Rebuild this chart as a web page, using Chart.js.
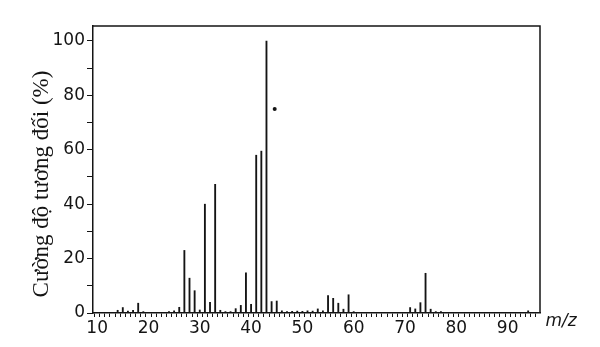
<!DOCTYPE html>
<html>
<head>
<meta charset="utf-8">
<script src="https://cdn.jsdelivr.net/npm/chart.js@4.4.1/dist/chart.umd.min.js"></script>
<style>
  html, body { margin: 0; padding: 0; background: #fff; }
  #wrap { width: 600px; height: 347px; position: relative; }
</style>
</head>
<body>
<div id="wrap"><canvas id="chart"></canvas></div>
<script>
// --- Data ---
const mz        = [14, 15, 16, 17, 18, 19, 24, 25, 26, 27, 28, 29, 30, 31, 32, 33, 34, 35, 36, 37, 38, 39, 40, 41, 42, 43, 44, 45, 46, 47, 48, 49, 50, 51, 52, 53, 54, 55, 56, 57, 58, 59, 60, 71, 72, 73, 74, 75, 76, 77, 94];
const intensity = [1, 2, 0.7, 1, 3.6, 0.5, 0.5, 0.8, 2.1, 23, 12.8, 8.2, 1.1, 40, 3.9, 47.3, 1, 0.5, 0.5, 1.6, 2.8, 14.8, 3.2, 58, 59.5, 100, 4.2, 4.4, 0.8, 0.5, 0.6, 0.7, 0.6, 0.8, 0.7, 1.5, 0.8, 6.4, 5.4, 3.6, 1.4, 6.7, 0.5, 2, 1.5, 3.8, 14.6, 1.4, 0.5, 0.5, 0.8];

// stray dot visible in the scan
const dotX = [44.6];
const dotY = [75];

const xTickLabels = [10, 20, 30, 40, 50, 60, 70, 80, 90];
const yTickLabels = [0, 20, 40, 60, 80, 100];

const INK = '#141414';

// --- Frame + axis titles ---
const framePlugin = {
    id: 'frame',
    afterDraw(chart) {
        const { ctx, chartArea: a } = chart;
        ctx.save();
        ctx.strokeStyle = INK;
        ctx.lineWidth = 1.5;
        ctx.beginPath();
        ctx.moveTo(a.left, a.top);
        ctx.lineTo(a.right, a.top);
        ctx.lineTo(a.right, a.bottom);
        ctx.stroke();

        ctx.fillStyle = INK;
        ctx.translate(42, 184);
        ctx.rotate(-Math.PI / 2);
        ctx.font = '23px "Liberation Serif"';
        ctx.textAlign = 'center';
        ctx.textBaseline = 'middle';
        ctx.fillText('Cường độ tương đối (%)', 0, 0);
        ctx.restore();

        ctx.save();
        ctx.fillStyle = INK;
        ctx.font = 'italic 17px "DejaVu Sans"';
        ctx.textAlign = 'center';
        ctx.textBaseline = 'middle';
        ctx.fillText('m/z', 561, 322);
        ctx.restore();
    }
};

new Chart(document.getElementById('chart'), {
    data: {
        datasets: [
            {
                type: 'bar',
                data: mz.map((m, i) => ({ x: m, y: intensity[i] })),
                backgroundColor: INK,
                barThickness: 1.2
            },
            {
                type: 'scatter',
                data: dotX.map((x, i) => ({ x: x, y: dotY[i] })),
                backgroundColor: INK,
                borderWidth: 0,
                pointRadius: 2
            }
        ]
    },
    options: {
        responsive: true,
        maintainAspectRatio: false,
        animation: false,
        layout: { padding: { top: 26, right: 60, left: 0, bottom: 0 } },
        plugins: {
            legend: { display: false },
            tooltip: { enabled: false }
        },
        scales: {
            x: {
                type: 'linear',
                min: 9.7,
                max: 95.8,
                afterFit: (s) => { s.height = 34; },
                afterBuildTicks: (s) => {
                    const t = [];
                    for (let v = xTickLabels[0]; v <= 95; v++) t.push({ value: v });
                    s.ticks = t;
                },
                grid: { drawOnChartArea: false, drawTicks: true, tickLength: 4, tickColor: INK },
                border: { display: true, color: INK, width: 1.5 },
                ticks: {
                    autoSkip: false,
                    maxRotation: 0,
                    padding: 1,
                    color: INK,
                    font: { family: '"DejaVu Sans"', size: 17 },
                    callback: (v) => xTickLabels.includes(v) ? String(v) : ''
                }
            },
            y: {
                min: 0,
                max: 105.5,
                afterFit: (s) => { s.width = 93; },
                afterBuildTicks: (s) => {
                    const t = [];
                    for (let v = 0; v <= 100; v += 10) t.push({ value: v });
                    s.ticks = t;
                },
                grid: { drawOnChartArea: false, drawTicks: true, tickLength: 6, tickColor: INK },
                border: { display: true, color: INK, width: 1.5 },
                ticks: {
                    autoSkip: false,
                    padding: 2,
                    color: INK,
                    font: { family: '"DejaVu Sans"', size: 17 },
                    callback: (v) => yTickLabels.includes(v) ? String(v) : ''
                }
            }
        }
    },
    plugins: [framePlugin]
});
</script>
</body>
</html>
